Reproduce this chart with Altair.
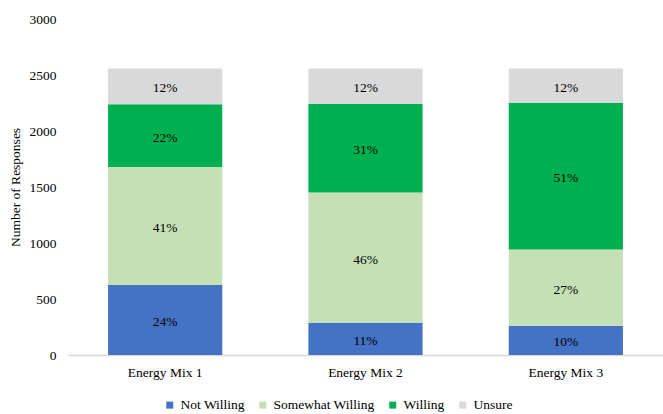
import altair as alt
import pandas as pd

# Survey responses per energy mix, by willingness category
mixes = ["Energy Mix 1", "Energy Mix 2", "Energy Mix 3"]
categories = ["Not Willing", "Somewhat Willing", "Willing", "Unsure"]
colors = ["#4472C4", "#C5E0B4", "#00B050", "#D9D9D9"]
not_willing = [625, 286, 262]
somewhat_willing = [1054, 1166, 681]
willing = [559, 792, 1307]
unsure = [319, 313, 307]
y_ticks = [0, 500, 1000, 1500, 2000, 2500, 3000]

series = [not_willing, somewhat_willing, willing, unsure]
rows = []
for ci, (cat, vals) in enumerate(zip(categories, series)):
    for mix, v in zip(mixes, vals):
        rows.append({"mix": mix, "category": cat, "rank": ci, "count": v})
df = pd.DataFrame(rows)

FONT = "Liberation Serif"

base = alt.Chart(df).transform_joinaggregate(
    total="sum(count)", groupby=["mix"]
).transform_stack(
    stack="count", groupby=["mix"], sort=[alt.SortField("rank")], as_=["y0", "y1"]
).transform_calculate(
    mid="(datum.y0 + datum.y1) / 2",
    pct="datum.count / datum.total",
)

x_enc = alt.X(
    "mix:N",
    sort=mixes,
    title=None,
    scale=alt.Scale(paddingInner=0.43, paddingOuter=0.2),
    axis=alt.Axis(
        labelAngle=0, ticks=False, domainColor="#D9D9D9", domainWidth=1.5,
        labelPadding=10, labelFontSize=13.5, labelColor="#000000", labelFont=FONT,
    ),
)

bars = base.mark_bar().encode(
    x=x_enc,
    y=alt.Y(
        "y0:Q",
        scale=alt.Scale(domain=[0, 3000], nice=False),
        title="Number of Responses",
        axis=alt.Axis(
            values=y_ticks, format="d", grid=False, domain=False, ticks=False,
            labelPadding=12, labelFontSize=13.5, labelColor="#000000", labelFont=FONT,
            titleFontSize=13.5, titleFontWeight="normal", titleColor="#000000",
            titleFont=FONT, titlePadding=7,
        ),
    ),
    y2="y1:Q",
    color=alt.Color(
        "category:N",
        scale=alt.Scale(domain=categories, range=colors),
        legend=alt.Legend(
            title=None, orient="none", direction="horizontal", columns=4,
            legendX=95, legendY=379,
            symbolType="square", symbolSize=49, symbolStrokeWidth=0,
            labelFontSize=13.5, labelFont=FONT, labelColor="#000000",
            labelOffset=4, columnPadding=11,
        ),
    ),
)

labels = base.mark_text(fontSize=13.5, font=FONT, color="#000000", dy=2).encode(
    x=alt.X("mix:N", sort=mixes),
    y=alt.Y("mid:Q"),
    text=alt.Text("pct:Q", format=".0%"),
)

chart = alt.layer(bars, labels).properties(
    width=595,
    height=336,
    autosize=alt.AutoSizeParams(type="none"),
    padding={"left": 68, "top": 19, "right": 0, "bottom": 59},
).configure_view(stroke=None)

chart.save("out.html", embed_options={"renderer": "svg", "actions": False})
